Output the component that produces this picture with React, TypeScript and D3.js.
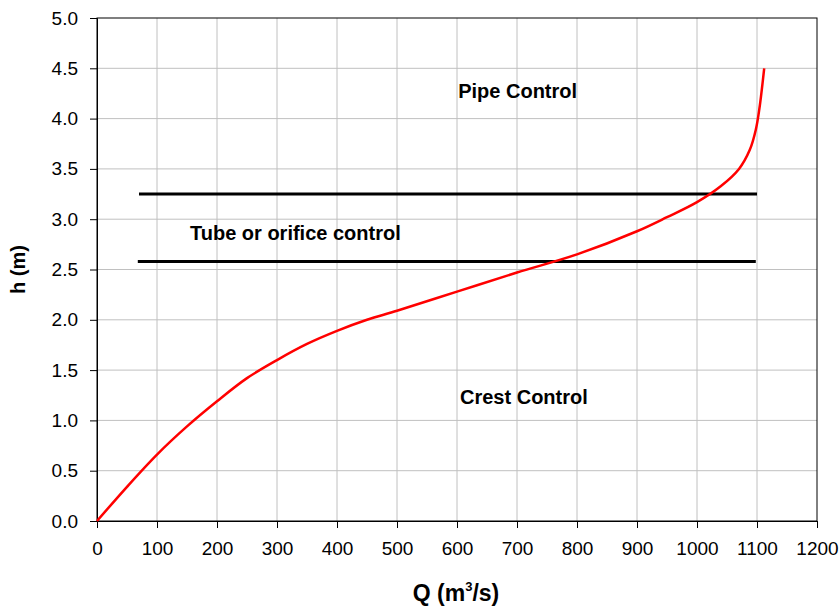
import React, { useEffect, useRef } from 'react';
import * as d3 from 'd3';

// rating curve
const flowQ = [0, 50, 100, 150, 200, 250, 300, 350, 400, 450, 500, 600, 700, 800, 900, 950, 1000, 1040, 1070, 1088, 1098, 1104, 1112];
const headH = [0, 0.34, 0.66, 0.94, 1.19, 1.42, 1.6, 1.76, 1.89, 2.0, 2.09, 2.28, 2.47, 2.65, 2.88, 3.02, 3.17, 3.33, 3.5, 3.69, 3.89, 4.1, 4.5];

// control limits
const limitLevels = [3.25, 2.58];
const limitFrom = [70, 68];
const limitTo = [1100, 1098];

const zoneLabels = ['Pipe Control', 'Tube or orifice control', 'Crest Control'];
const zoneQ = [602, 155, 605];
const zoneH = [4.2, 2.79, 1.16];

const xTicks = [0, 100, 200, 300, 400, 500, 600, 700, 800, 900, 1000, 1100, 1200];
const yTicks = [0, 0.5, 1.0, 1.5, 2.0, 2.5, 3.0, 3.5, 4.0, 4.5, 5.0];

const App = () => {
  const svgRef = useRef<SVGSVGElement>(null);

  useEffect(() => {
    const svg = d3.select(svgRef.current);
    svg.selectAll('*').remove();

    const W = 839, H = 606;
    const margin = { top: 18, right: 22, bottom: 85, left: 97 };
    const width = W - margin.left - margin.right;
    const height = H - margin.top - margin.bottom;
    const font = 'Liberation Sans, Arial, sans-serif';

    svg.attr('width', W).attr('height', H);
    const g = svg.append('g').attr('transform', `translate(${margin.left},${margin.top})`);

    const x = d3.scaleLinear().domain([0, 1200]).range([0, width]);
    const y = d3.scaleLinear().domain([0, 5]).range([height, 0]);

    // grid
    g.append('g')
      .selectAll('line')
      .data(xTicks.slice(1, -1))
      .enter()
      .append('line')
      .attr('x1', d => x(d)).attr('x2', d => x(d))
      .attr('y1', 0).attr('y2', height)
      .attr('stroke', '#c0c0c0').attr('stroke-width', 1);
    g.append('g')
      .selectAll('line')
      .data(yTicks.slice(1, -1))
      .enter()
      .append('line')
      .attr('y1', d => y(d)).attr('y2', d => y(d))
      .attr('x1', 0).attr('x2', width)
      .attr('stroke', '#c0c0c0').attr('stroke-width', 1);

    // frame
    g.append('rect')
      .attr('width', width).attr('height', height)
      .attr('fill', 'none').attr('stroke', '#000').attr('stroke-width', 1);

    // axes
    const xAxis = g.append('g')
      .attr('transform', `translate(0,${height})`)
      .call(d3.axisBottom(x).tickValues(xTicks).tickSize(7).tickPadding(14).tickFormat(d3.format('d')));
    const yAxis = g.append('g')
      .call(d3.axisLeft(y).tickValues(yTicks).tickSize(7).tickPadding(12).tickFormat(d3.format('.1f')));

    [xAxis, yAxis].forEach(a => {
      a.select('.domain').attr('stroke', '#000');
      a.selectAll('.tick line').attr('stroke', '#000');
      a.selectAll('text')
        .attr('fill', '#000')
        .style('font-family', font)
        .style('font-size', '19px');
    });

    // control limit lines
    g.append('g')
      .selectAll('line')
      .data(limitLevels)
      .enter()
      .append('line')
      .attr('x1', (d, i) => x(limitFrom[i]))
      .attr('x2', (d, i) => x(limitTo[i]))
      .attr('y1', d => y(d)).attr('y2', d => y(d))
      .attr('stroke', '#000').attr('stroke-width', 3);

    // curve
    const line = d3.line<number>()
      .x((d, i) => x(flowQ[i]))
      .y(d => y(d))
      .curve(d3.curveCatmullRom.alpha(0.5));

    g.append('path')
      .datum(headH)
      .attr('fill', 'none')
      .attr('stroke', '#ff0000')
      .attr('stroke-width', 2.5)
      .attr('d', line);

    // zone labels
    g.append('g')
      .selectAll('text')
      .data(zoneLabels)
      .enter()
      .append('text')
      .attr('x', (d, i) => x(zoneQ[i]))
      .attr('y', (d, i) => y(zoneH[i]))
      .style('font-family', font)
      .style('font-size', '20px')
      .style('font-weight', 'bold')
      .text(d => d);

    // axis titles
    const xt = svg.append('text')
      .attr('x', margin.left + x(600) - 1)
      .attr('y', 601)
      .attr('text-anchor', 'middle')
      .style('font-family', font)
      .style('font-size', '23px')
      .style('font-weight', 'bold');
    xt.append('tspan').text('Q (m');
    xt.append('tspan').attr('dy', -10).style('font-size', '13px').text('3');
    xt.append('tspan').attr('dy', 10).text('/s)');

    svg.append('text')
      .attr('transform', `translate(25,${margin.top + y(2.5)}) rotate(-90)`)
      .attr('text-anchor', 'middle')
      .style('font-family', font)
      .style('font-size', '20px')
      .style('font-weight', 'bold')
      .text('h (m)');
  }, []);

  return (
    <div style={{ position: 'absolute', left: 0, top: 0 }}>
      <svg ref={svgRef} style={{ display: 'block' }}></svg>
    </div>
  );
};

export default App;
